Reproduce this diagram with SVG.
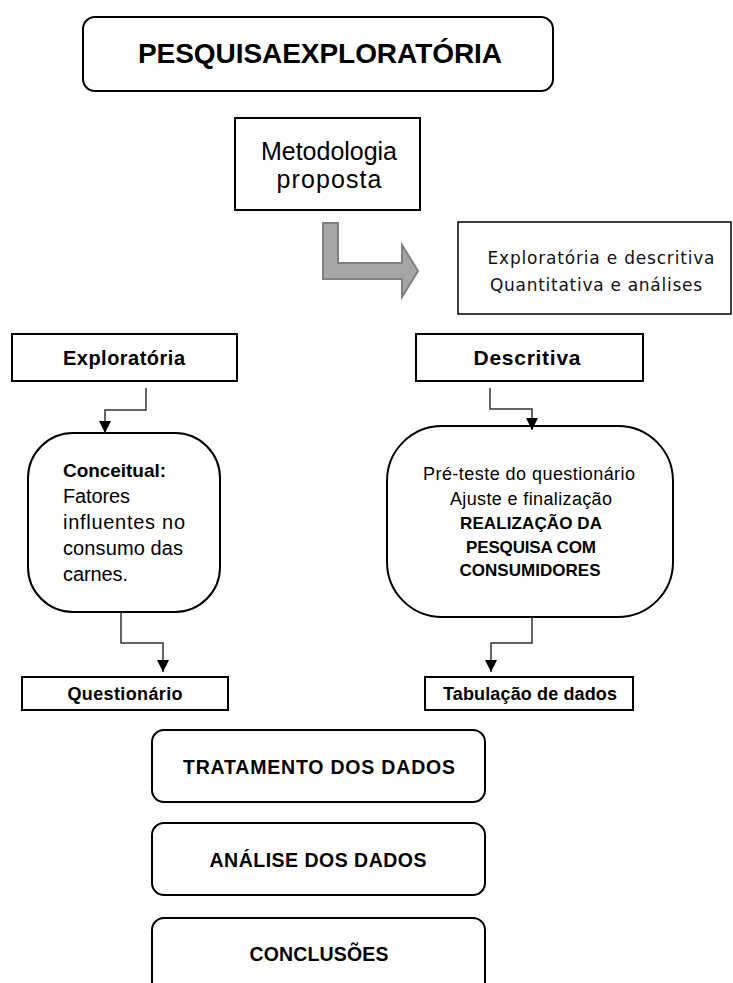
<svg xmlns="http://www.w3.org/2000/svg" width="733" height="983" viewBox="0 0 733 983">
<style>
.box{fill:#fff;stroke:#000;stroke-width:2}
.thin{fill:#fff;stroke:#000;stroke-width:1.5}
.t{font-family:"Liberation Sans",Arial,sans-serif;fill:#000}
.b{font-weight:bold}
.d{font-family:"DejaVu Sans","Liberation Sans",sans-serif;fill:#111}
.conn{fill:none;stroke:#333;stroke-width:1.5}
</style>
<defs>
<marker id="arr" markerUnits="userSpaceOnUse" markerWidth="14" markerHeight="12" refX="12" refY="6" orient="auto">
<path d="M0,0 L12,6 L0,12 Z" fill="#000"/>
</marker>
</defs>
<g id="title">
<rect class="box" x="83" y="17" width="470" height="74" rx="12"/>
<text class="t b" x="320" y="63" font-size="28" text-anchor="middle" textLength="364">PESQUISAEXPLORATÓRIA</text>
</g>
<g id="metodologia">
<rect class="box" x="235" y="118" width="185" height="92"/>
<text class="t" x="329" y="160" font-size="25" text-anchor="middle" textLength="136">Metodologia</text>
<text class="t" x="329" y="188" font-size="25" text-anchor="middle" textLength="105">proposta</text>
</g>
<g id="tipo">
<rect class="thin" x="458" y="222" width="273" height="92"/>
<text class="d" x="601" y="264" font-size="17" text-anchor="middle" textLength="227">Exploratória e descritiva</text>
<text class="d" x="596" y="291" font-size="17" text-anchor="middle" textLength="212">Quantitativa e análises</text>
</g>
<g id="bent-arrow">
<path d="M323,223 L338,223 L338,263 L402,263 L402,245 L418,271 L402,297 L402,279 L323,279 Z" fill="#a6a6a6" stroke="#808080" stroke-width="2" stroke-linejoin="miter"/>
</g>
<g id="exploratoria">
<rect class="box" x="12" y="334" width="225" height="47"/>
<text class="t b" x="124" y="365" font-size="20" text-anchor="middle" textLength="122">Exploratória</text>
</g>
<g id="descritiva">
<rect class="box" x="416" y="334" width="227" height="47"/>
<text class="t b" x="527" y="365" font-size="21" text-anchor="middle" textLength="107">Descritiva</text>
</g>
<g id="conceitual">
<rect class="box" x="28" y="433" width="192" height="179" rx="45"/>
<text class="t b" x="63" y="477" font-size="19" textLength="103">Conceitual:</text>
<text class="t" x="63" y="503" font-size="20" textLength="67">Fatores</text>
<text class="t" x="63" y="529" font-size="20" textLength="122">influentes no</text>
<text class="t" x="63" y="555" font-size="20" textLength="120">consumo das</text>
<text class="t" x="63" y="581" font-size="20" textLength="65">carnes.</text>
</g>
<g id="pesquisa">
<rect class="box" x="387" y="426" width="286" height="191" rx="55"/>
<text class="t" x="529" y="480" font-size="18" text-anchor="middle" textLength="212">Pré-teste do questionário</text>
<text class="t" x="531" y="505" font-size="18" text-anchor="middle" textLength="162">Ajuste e finalização</text>
<text class="t b" x="531" y="529" font-size="17" text-anchor="middle" textLength="142">REALIZAÇÃO DA</text>
<text class="t b" x="531" y="553" font-size="17" text-anchor="middle" textLength="130">PESQUISA COM</text>
<text class="t b" x="530" y="576" font-size="17" text-anchor="middle" textLength="141">CONSUMIDORES</text>
</g>
<g id="questionario">
<rect class="box" x="22" y="677" width="206" height="33"/>
<text class="t b" x="125" y="700" font-size="18" text-anchor="middle" textLength="115">Questionário</text>
</g>
<g id="tabulacao">
<rect class="box" x="425" y="677" width="208" height="33"/>
<text class="t b" x="530" y="700" font-size="18" text-anchor="middle" textLength="174">Tabulação de dados</text>
</g>
<g id="tratamento">
<rect class="box" x="152" y="730" width="333" height="72" rx="12"/>
<text class="t b" x="319" y="774" font-size="19.5" text-anchor="middle" textLength="272">TRATAMENTO  DOS DADOS</text>
</g>
<g id="analise">
<rect class="box" x="152" y="823" width="333" height="72" rx="12"/>
<text class="t b" x="318" y="867" font-size="19.5" text-anchor="middle" textLength="217">ANÁLISE  DOS DADOS</text>
</g>
<g id="conclusoes">
<rect class="box" x="152" y="918" width="333" height="80" rx="12"/>
<text class="t b" x="319" y="961" font-size="19.5" text-anchor="middle" textLength="139">CONCLUSÕES</text>
</g>
<g id="connectors">
<path class="conn" d="M146,388 V410 H105 V433" marker-end="url(#arr)"/>
<path class="conn" d="M490,388 V409 H532 V430" marker-end="url(#arr)"/>
<path class="conn" d="M121,612 V643 H163 V672" marker-end="url(#arr)"/>
<path class="conn" d="M532,617 V643 H491 V672" marker-end="url(#arr)"/>
</g>
</svg>
